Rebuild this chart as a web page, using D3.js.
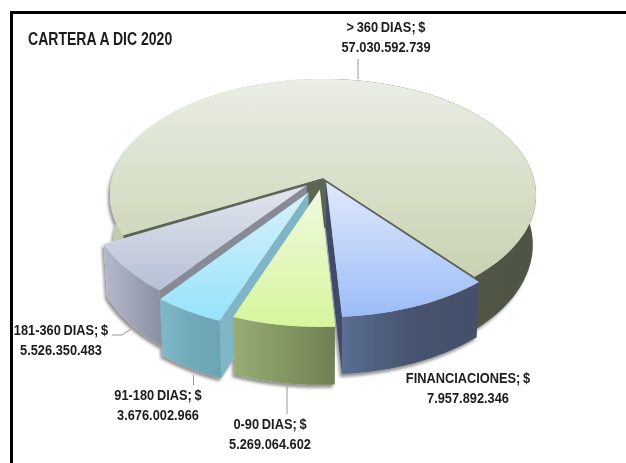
<!DOCTYPE html>
<html><head><meta charset="utf-8">
<script src="https://cdn.jsdelivr.net/npm/d3@7/dist/d3.min.js"></script>
<style>html,body{margin:0;padding:0;background:#fff}svg{display:block}
text{font-family:"Liberation Sans",sans-serif;font-weight:700;fill:#1c1c1c;word-spacing:-1px}</style>
</head><body><div id="c"></div>
<script>
const title = "CARTERA A DIC 2020";
const categories = ["> 360 DIAS","FINANCIACIONES","0-90 DIAS","91-180 DIAS","181-360 DIAS"];
const values = [57030592739,7957892346,5269064602,3676002966,5526350483];
const explode = [0,0.04,0.1,0.14,0.1];
const topColors = [["#eaeee5","#c8d3b2"],["#e0e9fc","#9cbcf7"],["#f0f9e0","#d6f69c"],["#d8f1fa","#96e3fb"],["#e2e5ee","#b6c0d5"]];
const wallColors = [["#bfcbab","#bfcbab","#565b4b","#4f5444"],["#5a6e92","#47536f","#44506a"],["#97ad74","#839762","#6f8153"],["#7fb9c9","#72aaba","#6da4b5"],["#b4bacb","#a0a6b8","#8b91a5"]];
const faceColors = ["#5d6555","#3f4c69","#7a8c5c","#7fb5c6","#878b98"];
const labelPos = [[386,32],[468,383],[270,429],[158,400],[61,335]];
const leaders = [[[358,59],[358,79]],[[287,386],[287,414]],[[193.5,375],[193.5,385]],[[112,335],[122,335],[131,329]]];

const W=626,H=463;
const svg=d3.select("#c").append("svg").attr("width",W).attr("height",H);
const defs=svg.append("defs");
const f=defs.append("filter").attr("id","sh").attr("x","-10%").attr("y","-10%").attr("width","120%").attr("height","125%");
f.append("feDropShadow").attr("dx",-2).attr("dy",3).attr("stdDeviation",1.8).attr("flood-color","#000").attr("flood-opacity",.42);
const tf=defs.append("filter").attr("id","soft");tf.append("feGaussianBlur").attr("stdDeviation",.3);

svg.append("path").attr("d",`M11.5 ${H}V12.5H${W}`).attr("fill","none").attr("stroke","#000").attr("stroke-width",3);

const cx=323,cy=178,A=210.7,B=113.6,k=0.147,D=48.6;
function proj(X,Y,z){const w=1-k*Y;const s=z?0.985:1;return [cx+A*X/w*s,cy+B*Y/w+(z?D/w:0)];}
const rimPt=(a,e,z)=>proj(Math.sin(a)+e[0],-Math.cos(a)+e[1],z);
const tipPt=(e,z)=>proj(e[0],e[1],z);

const start=-118*Math.PI/180;
const arcs=d3.pie().sort(null).startAngle(start).endAngle(start+2*Math.PI)(values);
const line=d3.line();
const pathArc=(a0,a1,e,z)=>d3.range(0,121).map(i=>rimPt(a0+(a1-a0)*i/120,e,z));
const g=svg.append("g").attr("filter","url(#sh)");
[0,1,4,3,2].forEach(i=>{
  const d=arcs[i],mid=(d.startAngle+d.endAngle)/2;
  const e=[Math.sin(mid)*explode[i],-Math.cos(mid)*explode[i]];
  const top=pathArc(d.startAngle,d.endAngle,e,false),bot=pathArc(d.startAngle,d.endAngle,e,true);
  const sg=g.append("g");
  [[d.startAngle,-1],[d.endAngle,1]].forEach(([a,sgn])=>{
    const nx=Math.cos(a)*sgn, ny=Math.sin(a)*sgn;
    const vis=(0-e[0])*nx+(1/k-e[1])*ny>0;
    if(!vis) return;
    const q=[tipPt(e,false),rimPt(a,e,false),rimPt(a,e,true),tipPt(e,true)];
    sg.append("path").attr("d",line(q)+"Z").attr("fill",faceColors[i]);
  });
  const xs=top.map(p=>p[0]);
  const wg=defs.append("linearGradient").attr("id","w"+i).attr("gradientUnits","userSpaceOnUse")
    .attr("x1",d3.min(xs)).attr("x2",d3.max(xs)).attr("y1",0).attr("y2",0);
  wallColors[i].forEach((c,j,arr)=>wg.append("stop").attr("offset",i===0?[0,.45,.55,1][j]:j/(arr.length-1)).attr("stop-color",c));
  sg.append("path").attr("d",line(top.concat(bot.slice().reverse()))+"Z").attr("fill",`url(#w${i})`);
  const ys=top.map(p=>p[1]).concat([tipPt(e,false)[1]]);
  const tg=defs.append("linearGradient").attr("id","t"+i).attr("gradientUnits","userSpaceOnUse")
    .attr("x1",0).attr("x2",0).attr("y1",d3.min(ys)).attr("y2",d3.max(ys));
  tg.append("stop").attr("offset",0).attr("stop-color",topColors[i][0]);
  tg.append("stop").attr("offset",1).attr("stop-color",topColors[i][1]);
  sg.append("path").attr("d",line([tipPt(e,false)].concat(top))+"Z").attr("fill",`url(#t${i})`);
});

leaders.forEach(l=>svg.append("path").attr("d",line(l)).attr("fill","none").attr("stroke","#9a9a9a").attr("stroke-width",1));

const fmt=d3.formatLocale({decimal:",",thousands:".",grouping:[3],currency:["$",""]}).format(",d");
const tg=svg.append("g").attr("filter","url(#soft)");
categories.forEach((c,i)=>{
  const t=tg.append("g").attr("transform",`translate(${labelPos[i][0]},${labelPos[i][1]}) scale(.855,1)`);
  t.append("text").attr("text-anchor","middle").attr("font-size",15).text(c+"; $");
  t.append("text").attr("text-anchor","middle").attr("font-size",15).attr("y",19.7).text(fmt(values[i]));
});
tg.append("g").attr("transform","translate(28,45) scale(.78,1)").append("text").attr("font-size",18).style("word-spacing","0").text(title);
</script></body></html>
